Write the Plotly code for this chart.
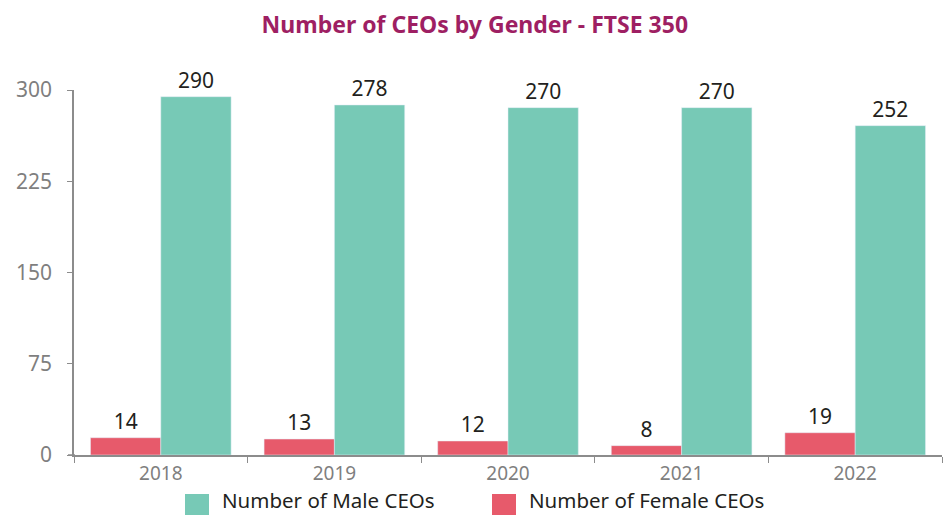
import plotly.graph_objects as go

years = ['2018', '2019', '2020', '2021', '2022']
# bar heights as drawn in the reference, and the value labels printed above them
male_ceos = [294.5, 287.7, 285.5, 285.5, 270.7]
male_labels = ['290', '278', '270', '270', '252']
female_ceos = [14.2, 13.1, 11.5, 7.7, 18.3]
female_labels = ['14', '13', '12', '8', '19']

MALE = '#77c9b6'
FEMALE = '#e75a6b'
TEXT = '#231f20'
GREY = '#7f7f7f'
FONT = 'Noto Sans'

W, H = 944, 515
L, R, T, B = 74, 2, 90, 60


def px_x(x):
    return (x - L) / (W - L - R)


def px_y(y):
    return (H - B - y) / (H - T - B)


fig = go.Figure()
fig.add_trace(go.Bar(x=years, y=female_ceos, name='Number of Female CEOs',
                     marker_color=FEMALE, text=female_labels,
                     textposition='outside', cliponaxis=False,
                     textfont=dict(size=21, color=TEXT), showlegend=False))
fig.add_trace(go.Bar(x=years, y=male_ceos, name='Number of Male CEOs',
                     marker_color=MALE, text=male_labels,
                     textposition='outside', cliponaxis=False,
                     textfont=dict(size=21, color=TEXT), showlegend=False))

# legend drawn by hand so the swatches can be as large as in the original
legend = [(185, MALE, 'Number of Male CEOs'), (492, FEMALE, 'Number of Female CEOs')]
for x0, col, label in legend:
    fig.add_shape(type='rect', xref='paper', yref='paper',
                  x0=px_x(x0), x1=px_x(x0 + 24), y0=px_y(494), y1=px_y(516),
                  fillcolor=col, line_width=0)
    fig.add_annotation(xref='paper', yref='paper', x=px_x(x0 + 35), y=px_y(500),
                       text=label, showarrow=False, xanchor='left', yanchor='middle',
                       font=dict(size=20.5, color=TEXT))

# x axis line in the original pokes a little past the y axis
fig.add_shape(type='line', xref='paper', yref='paper', x0=px_x(68), x1=px_x(75),
              y0=0, y1=0, line=dict(color='#8c8c8c', width=1.5))

fig.update_layout(
    width=W, height=H,
    margin=dict(l=L, r=R, t=T, b=B, autoexpand=False),
    paper_bgcolor='white', plot_bgcolor='white',
    font=dict(family=FONT),
    barmode='group', bargap=0.19, bargroupgap=0,
    title=dict(text='<b>Number of CEOs by Gender - FTSE 350</b>',
               x=0.503, xanchor='center', y=1 - 25 / H, yanchor='middle',
               font=dict(size=23, color='#9e1f63', family=FONT)),
    xaxis=dict(showline=True, linecolor='#8c8c8c', linewidth=1.5,
               ticks='outside', tickson='boundaries', ticklen=6,
               tickcolor='#8c8c8c', tickfont=dict(size=19, color=GREY),
               showgrid=False, automargin=False),
    yaxis=dict(range=[0, 300], dtick=75, showline=True, linecolor='#8c8c8c',
               linewidth=1.5, ticks='outside', ticklen=5, tickcolor='#8c8c8c',
               tickfont=dict(size=21, color=GREY), showgrid=False,
               zeroline=False, ticklabelstandoff=11, automargin=False),
)

# drop the default page margin so the figure sits at the window's corner
fig.write_html('out.html', config={'displayModeBar': False},
               post_script="document.body.style.margin='0';document.body.style.overflow='hidden';")
